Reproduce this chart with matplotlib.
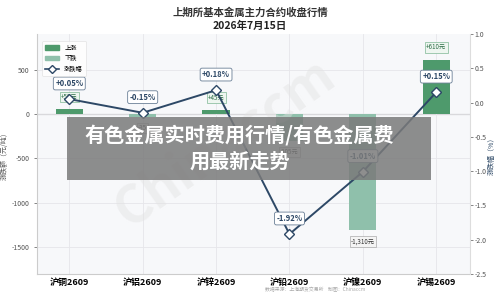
import matplotlib
matplotlib.use("Agg")
import matplotlib.pyplot as plt
from matplotlib.patches import Rectangle
from matplotlib.lines import Line2D
from matplotlib.patches import Patch

plt.rcParams['font.family'] = ['Noto Sans CJK SC', 'DejaVu Sans']
plt.rcParams['axes.unicode_minus'] = False

# data
contracts = ['沪铜2609', '沪铝2609', '沪锌2609', '沪铅2609', '沪镍2609', '沪锡2609']
change_yuan = [50, -35, 45, -305, -1310, 610]
change_pct = [0.05, -0.15, 0.18, -1.92, -1.01, 0.15]
yuan_labels = ['+50元', '-35', '+45元', '-305元', '-1,310元', '+610元']

up_color = '#4e9a6c'
down_color = '#8fc0ab'
line_color = '#2d4866'

fig = plt.figure(figsize=(5, 2.98), dpi=100)
fig.patch.set_facecolor('white')
ax = fig.add_axes([0.074, 0.081, 0.866, 0.805])
ax.set_facecolor('#f7f8fa')

x = list(range(len(contracts)))
colors = [up_color if v >= 0 else down_color for v in change_yuan]
ax.bar(x, change_yuan, width=0.37, color=colors, zorder=2)
ax.axhline(0, color='#999999', lw=0.8, zorder=1.5)
ax.set_xlim(-0.44, 5.46)
ax.set_ylim(-1800, 900)
ax.set_yticks([500, 0, -500, -1000, -1500])
ax.set_yticklabels(['500', '0', '-500', '-1000', '-1500'])
ax.set_xticks(x)
ax.set_xticklabels(contracts, fontsize=6.5, fontweight='bold')
ax.tick_params(axis='y', labelsize=5, colors='#555555', length=2, width=0.5)
ax.tick_params(axis='x', length=0, pad=3)
ax.grid(True, color='#e6e6ea', lw=0.6, zorder=0)
for s in ['top', 'right']:
    ax.spines[s].set_visible(False)
ax.spines['left'].set_color('#cccccc')
ax.spines['bottom'].set_color('#cccccc')
ax.set_ylabel('涨跌额（元/吨）', fontsize=5, color='#555555', labelpad=2)

for xi, v, lab in zip(x, change_yuan, yuan_labels):
    if v >= 0:
        ax.annotate(lab, (xi, v), xytext=(0, 6), textcoords='offset points',
                    ha='center', va='bottom', fontsize=4.5, color='#2e6e47',
                    bbox=dict(boxstyle='square,pad=0.2', fc='#eef6f0', ec='#7fb894', lw=0.5), zorder=3)
    else:
        ax.annotate(lab, (xi, v), xytext=(0, -5), textcoords='offset points',
                    ha='center', va='top', fontsize=4.5, color='#333333',
                    bbox=dict(boxstyle='square,pad=0.2', fc='#f4f4f4', ec='#aaaaaa', lw=0.5), zorder=3)

ax2 = ax.twinx()
ax2.plot(x, change_pct, color=line_color, lw=1.4, marker='D', markersize=5,
         markerfacecolor='white', markeredgecolor=line_color, markeredgewidth=1.0, zorder=4)
ax2.set_ylim(-2.5, 1.0)
ax2.set_yticks([1.0, 0.5, 0.0, -0.5, -1.0, -1.5, -2.0, -2.5])
ax2.tick_params(axis='y', labelsize=5, colors='#555555', length=2, width=0.5, pad=1.5)
for s in ['top', 'left', 'bottom']:
    ax2.spines[s].set_visible(False)
ax2.spines['right'].set_color('#dddddd')
ax2.set_ylabel('涨跌幅（%）', fontsize=5, color=line_color, labelpad=1)

for xi, p in zip(x, change_pct):
    ax2.annotate(f'{p:+.2f}%', (xi, p), xytext=(0, 8), textcoords='offset points',
                 ha='center', va='bottom', fontsize=5.5, fontweight='bold', color=line_color,
                 bbox=dict(boxstyle='round,pad=0.25', fc='white', ec='#6a7f96', lw=0.6), zorder=5)

handles = [Patch(color=up_color, label='上涨'), Patch(color=down_color, label='下跌'),
           Line2D([], [], color=line_color, marker='D', markersize=4, markerfacecolor='white',
                  lw=1.2, label='涨跌幅')]
leg = ax2.legend(handles=handles, loc='upper left', fontsize=4.5, frameon=True,
                 bbox_to_anchor=(0.005, 0.985), handlelength=2.2, borderpad=0.5, labelspacing=0.4)
leg.get_frame().set_linewidth(0.5)
leg.get_frame().set_edgecolor('#dddddd')

fig.text(0.5, 0.975, '上期所基本金属主力合约收盘行情', ha='center', va='top',
         fontsize=7.5, fontweight='bold', color='#333333')
fig.text(0.5, 0.93, '2026年7月15日', ha='center', va='top',
         fontsize=7.5, fontweight='bold', color='#222222')
fig.text(0.63, 0.02, '数据来源：上海期货交易所    制图：Chinaccm', ha='center', va='bottom',
         fontsize=3.5, color='#aaaaaa')

# watermark
fig.text(0.45, 0.52, 'Chinaccm', ha='center', va='center', fontsize=38, fontweight='bold',
         color='#e2e2e2', alpha=0.45, rotation=35, zorder=0)

# overlay caption
fig.patches.append(Rectangle((67 / 500, 1 - 180 / 298), (431 - 67) / 500, 63 / 298,
                             transform=fig.transFigure, fc='#7a7a7a', alpha=0.85, zorder=10))
fig.text(0.479, 1 - 148 / 298, '有色金属实时费用行情/有色金属费\n用最新走势', ha='center', va='center',
         fontsize=14.5, fontweight='bold', color='white', linespacing=1.3, zorder=11)

fig.savefig('out.png', dpi=100)
